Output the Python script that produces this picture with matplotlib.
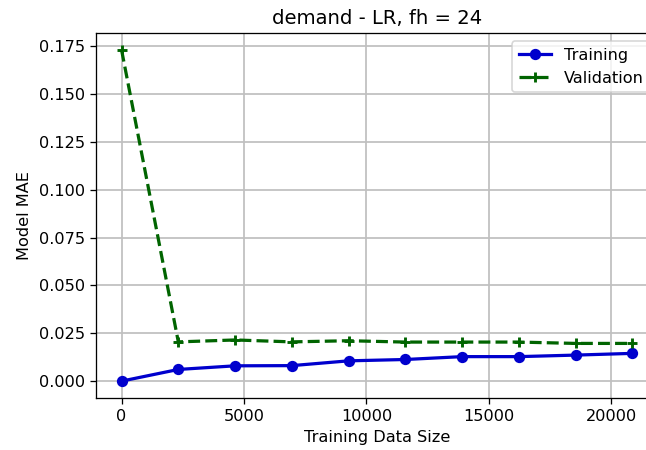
import numpy as np
import matplotlib.pyplot as plt

train_sizes = [0, 2318, 4636, 6954, 9272, 11590, 13908, 16226, 18544, 20862]
train_mae = [0.0, 0.0061, 0.0080, 0.0081, 0.0106, 0.0113, 0.0128, 0.0128, 0.0136, 0.0145]
val_mae = [0.173, 0.0205, 0.0215, 0.0205, 0.0211, 0.0204, 0.0204, 0.0204, 0.0197, 0.0197]

dpi = 116
fig = plt.figure(figsize=(646 / dpi, 450 / dpi), dpi=dpi)
# axes run past the right edge, as in the (cropped) original
ax = fig.add_axes([96 / 646, 1 - 397.7 / 450, (658 - 96) / 646, (397.7 - 33.3) / 450])

ax.plot(train_sizes, train_mae, "o-", color="mediumblue", lw=2, label="Training")
ax.plot(train_sizes, val_mae, "+--", color="darkgreen", lw=2, mew=1.8, label="Validation")

ax.set_title("demand - LR, fh = 24", fontsize=12.2)
ax.set_xlabel("Training Data Size")
ax.set_ylabel("Model MAE")
ax.grid(True, color="#c0c0c0", lw=1.1)
ax.legend(loc="upper right")

fig.savefig("out.png", dpi=dpi)
